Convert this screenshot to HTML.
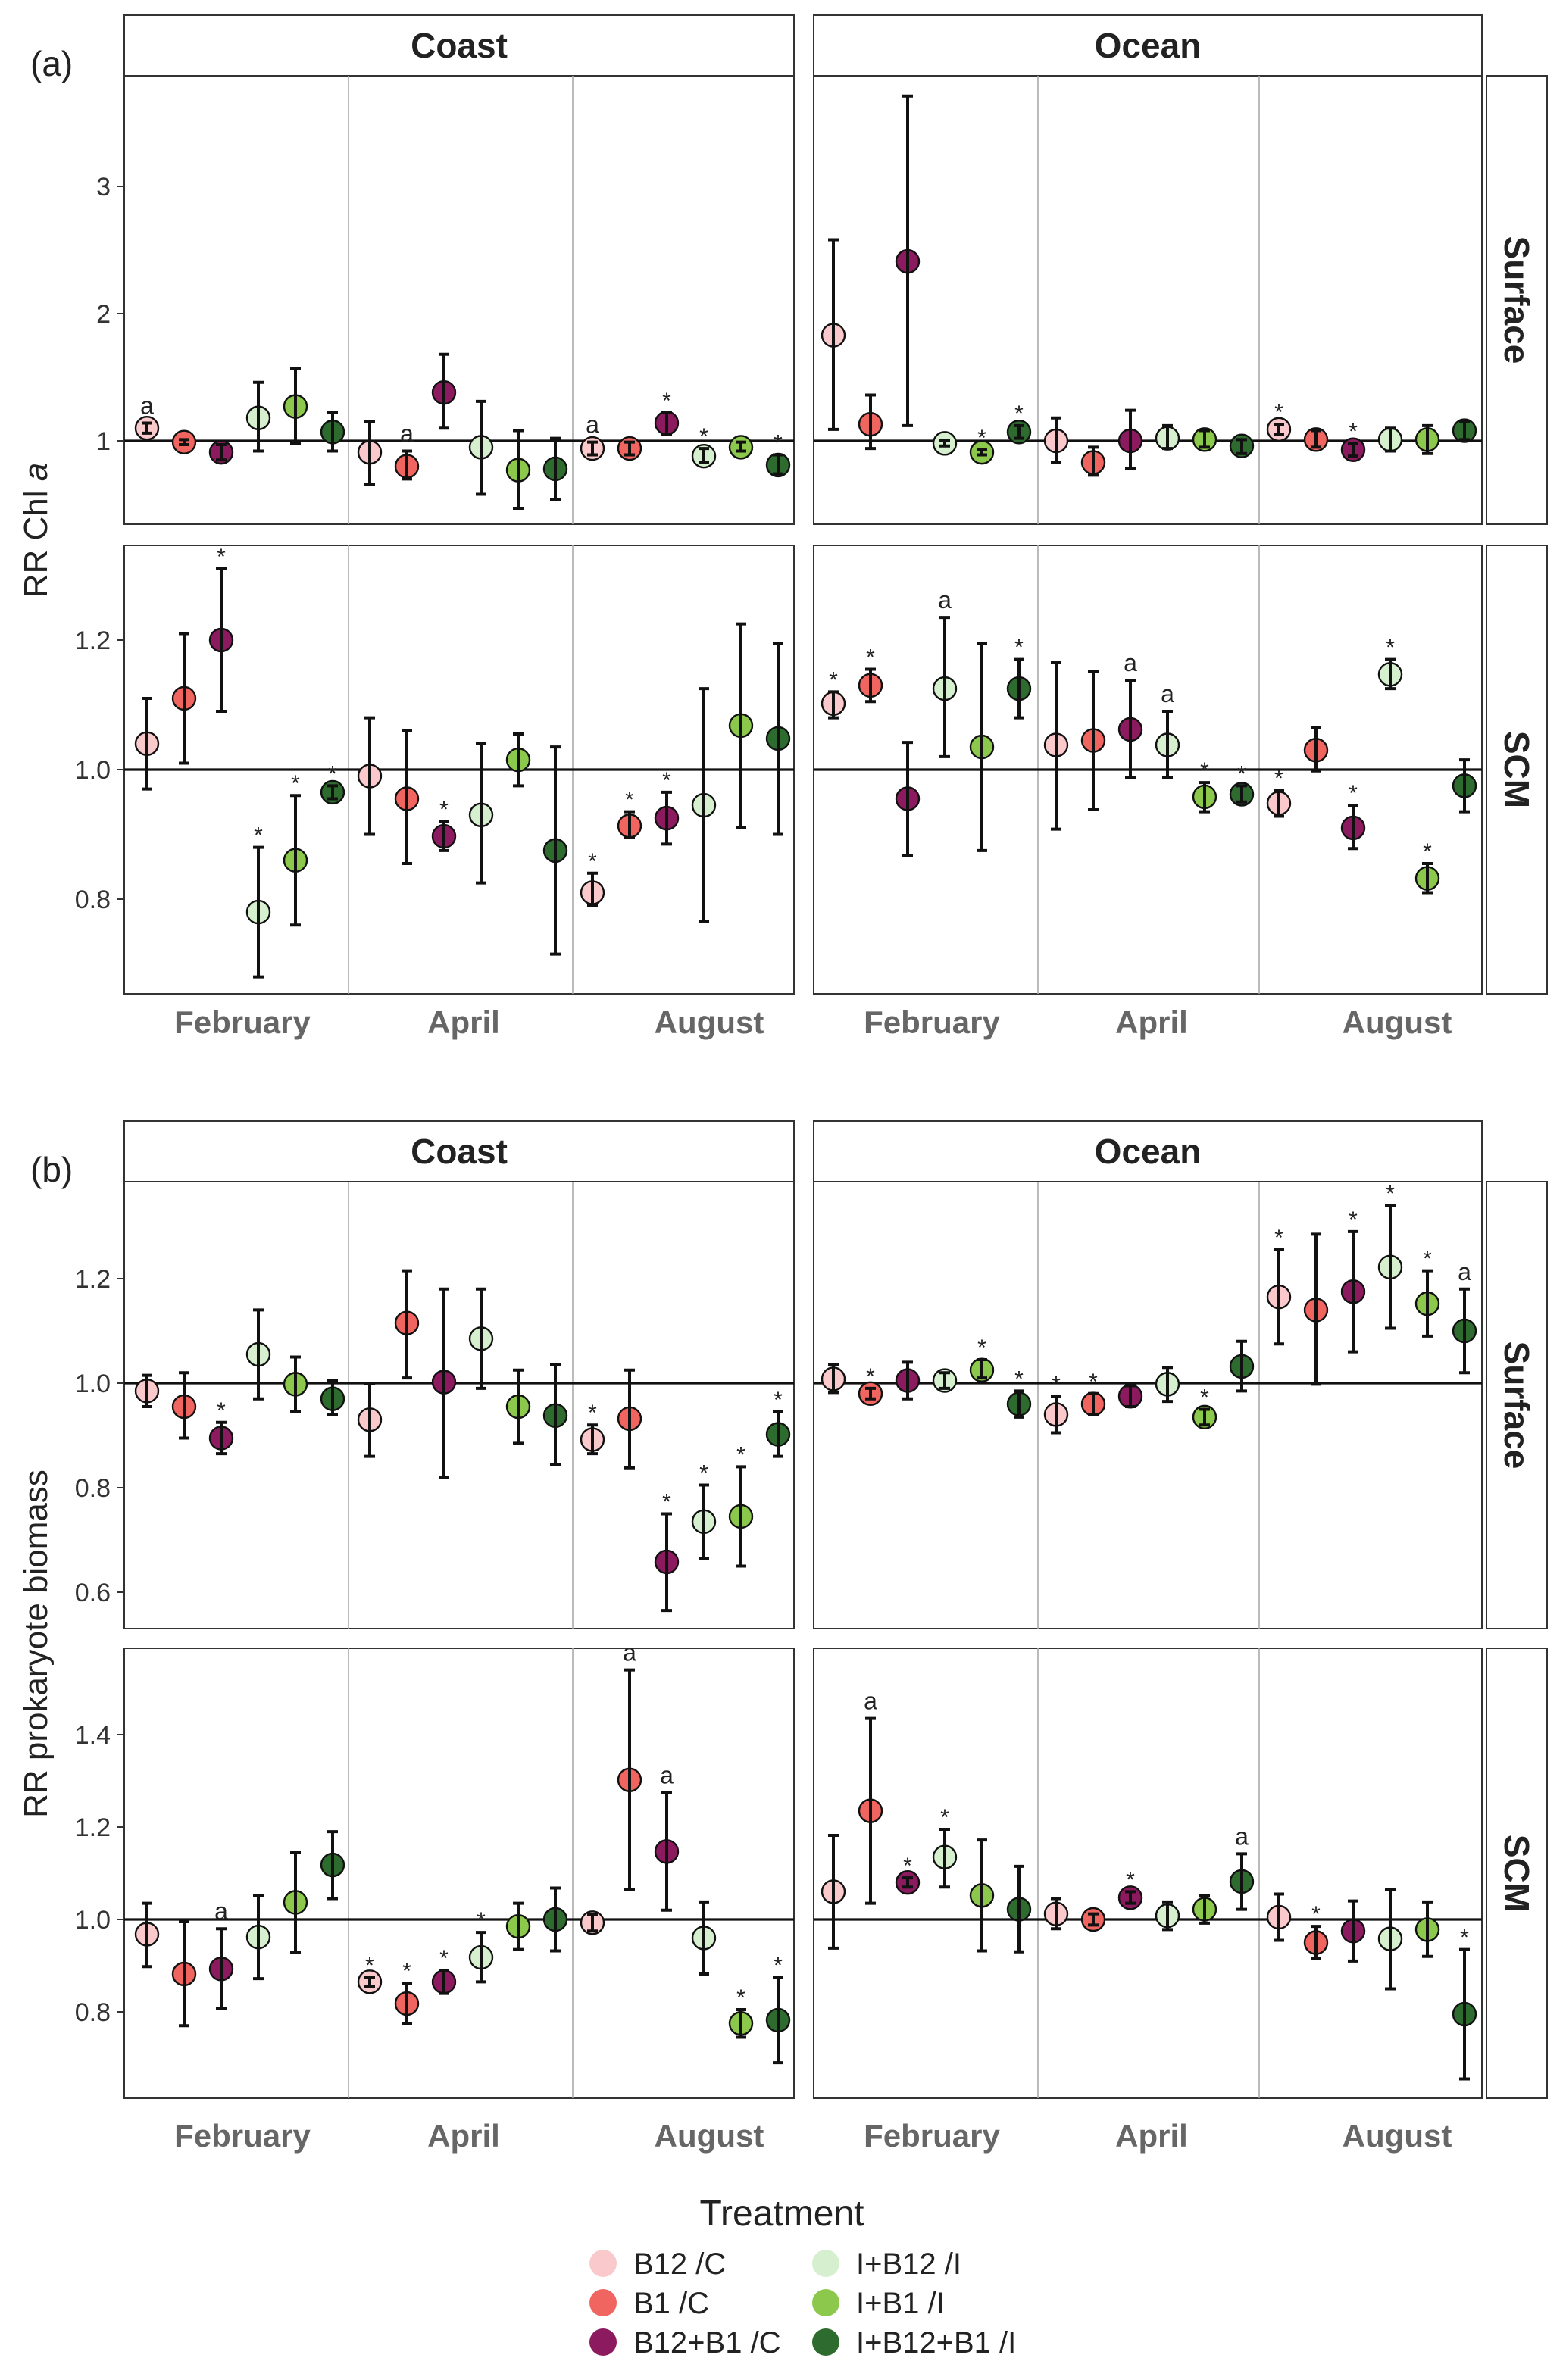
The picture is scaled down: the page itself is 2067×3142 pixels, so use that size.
<!DOCTYPE html>
<html><head><meta charset="utf-8"><style>
html,body{margin:0;padding:0;background:#fff}
svg{display:block}
text{font-family:"Liberation Sans",sans-serif}
</style></head><body>
<svg id="fig" xmlns="http://www.w3.org/2000/svg" width="2067" height="3142" viewBox="0 0 1033.5 1571"></svg>
<script>
// ---- data: each panel 18 treatments (Feb x6, Apr x6, Aug x6) ----
const months = ["February","April","August"];
const treatments = ["B12 /C","B1 /C","B12+B1 /C","I+B12 /I","I+B1 /I","I+B12+B1 /I"];
const colors = ["#f9c9cb","#f06560","#8b1a5e","#d6efcf","#8cc84b","#2e6b2e"];

const aCoastSurfMean=[1.10,0.99,0.91,1.18,1.27,1.07, 0.91,0.80,1.38,0.95,0.77,0.78, 0.94,0.94,1.14,0.88,0.95,0.81];
const aCoastSurfLo  =[1.06,0.97,0.85,0.92,0.98,0.92, 0.66,0.70,1.10,0.58,0.47,0.54, 0.89,0.89,1.05,0.83,0.92,0.74];
const aCoastSurfHi  =[1.14,1.01,0.97,1.46,1.57,1.22, 1.15,0.92,1.68,1.31,1.08,1.02, 0.99,0.99,1.22,0.94,0.99,0.89];
const aCoastSurfLab =["a","","","","","", "","a","","","","", "a","","*","*","","*"];

const aOceanSurfMean=[1.83,1.13,2.41,0.98,0.91,1.07, 1.00,0.83,1.00,1.02,1.01,0.96, 1.09,1.01,0.93,1.01,1.01,1.08];
const aOceanSurfLo  =[1.09,0.94,1.12,0.96,0.89,1.02, 0.83,0.73,0.78,0.94,0.95,0.90, 1.05,0.95,0.88,0.92,0.90,1.01];
const aOceanSurfHi  =[2.58,1.36,3.71,1.00,0.93,1.12, 1.18,0.95,1.24,1.12,1.08,1.01, 1.13,1.08,0.98,1.10,1.12,1.15];
const aOceanSurfLab =["","","","","*","*", "","","","","","", "*","","*","","",""];

const aCoastScmMean=[1.04,1.11,1.20,0.78,0.86,0.965, 0.99,0.955,0.897,0.93,1.015,0.875, 0.81,0.913,0.925,0.945,1.068,1.048];
const aCoastScmLo  =[0.97,1.01,1.09,0.68,0.76,0.955, 0.90,0.855,0.875,0.825,0.975,0.715, 0.79,0.895,0.885,0.765,0.91,0.90];
const aCoastScmHi  =[1.11,1.21,1.31,0.88,0.96,0.975, 1.08,1.06,0.92,1.04,1.055,1.035, 0.84,0.935,0.965,1.125,1.225,1.195];
const aCoastScmLab =["","","*","*","*","*", "","","*","","","", "*","*","*","","",""];

const aOceanScmMean=[1.102,1.13,0.955,1.125,1.035,1.125, 1.038,1.045,1.062,1.038,0.958,0.962, 0.948,1.03,0.91,1.147,0.832,0.975];
const aOceanScmLo  =[1.08,1.105,0.867,1.02,0.875,1.08, 0.908,0.938,0.988,0.988,0.935,0.95, 0.928,0.998,0.878,1.125,0.81,0.935];
const aOceanScmHi  =[1.12,1.155,1.042,1.235,1.195,1.17, 1.165,1.152,1.138,1.09,0.98,0.975, 0.968,1.065,0.945,1.17,0.855,1.015];
const aOceanScmLab =["*","*","","a","","*", "","","a","a","*","*", "*","","*","*","*",""];

const bCoastSurfMean=[0.985,0.955,0.895,1.055,0.998,0.97, 0.93,1.115,1.002,1.085,0.955,0.938, 0.892,0.932,0.658,0.735,0.745,0.902];
const bCoastSurfLo  =[0.955,0.895,0.865,0.97,0.945,0.94, 0.86,1.01,0.82,0.99,0.885,0.845, 0.865,0.838,0.565,0.665,0.65,0.86];
const bCoastSurfHi  =[1.015,1.02,0.925,1.14,1.05,1.005, 1.00,1.215,1.18,1.18,1.025,1.035, 0.92,1.025,0.75,0.805,0.84,0.945];
const bCoastSurfLab =["","","*","","","", "","","","","","", "*","","*","*","*","*"];

const bOceanSurfMean=[1.008,0.98,1.005,1.005,1.025,0.96, 0.94,0.96,0.975,0.998,0.935,1.032, 1.165,1.14,1.175,1.222,1.152,1.10];
const bOceanSurfLo  =[0.982,0.97,0.97,0.99,1.01,0.935, 0.905,0.94,0.955,0.965,0.92,0.985, 1.075,0.998,1.06,1.105,1.09,1.02];
const bOceanSurfHi  =[1.035,0.99,1.04,1.02,1.045,0.985, 0.975,0.98,0.995,1.03,0.95,1.08, 1.255,1.285,1.29,1.34,1.215,1.18];
const bOceanSurfLab =["","*","","","*","*", "*","*","","","*","", "*","","*","*","*","a"];

const bCoastScmMean=[0.968,0.882,0.893,0.962,1.037,1.118, 0.865,0.818,0.865,0.918,0.985,1.0, 0.993,1.302,1.147,0.96,0.775,0.782];
const bCoastScmLo  =[0.898,0.77,0.808,0.872,0.928,1.045, 0.855,0.775,0.84,0.865,0.935,0.932, 0.975,1.065,1.02,0.882,0.745,0.69];
const bCoastScmHi  =[1.035,0.995,0.98,1.052,1.145,1.19, 0.875,0.862,0.89,0.972,1.035,1.068, 1.01,1.54,1.275,1.038,0.805,0.875];
const bCoastScmLab =["","","a","","","", "*","*","*","*","","", "","a","a","","*","*"];

const bOceanScmMean=[1.06,1.235,1.08,1.135,1.052,1.022, 1.012,1.0,1.047,1.008,1.022,1.082, 1.005,0.95,0.975,0.958,0.978,0.795];
const bOceanScmLo  =[0.938,1.035,1.07,1.07,0.932,0.93, 0.98,0.988,1.035,0.978,0.992,1.022, 0.955,0.915,0.91,0.85,0.92,0.655];
const bOceanScmHi  =[1.182,1.435,1.09,1.195,1.172,1.115, 1.045,1.012,1.06,1.038,1.052,1.142, 1.055,0.985,1.04,1.065,1.038,0.935];
const bOceanScmLab =["","a","*","*","","", "","","*","","","a", "","*","","","","*"];

const aSurfTicks=[1,2,3], aSurfTickLabels=["1","2","3"];
const aScmTicks=[0.8,1.0,1.2], aScmTickLabels=["0.8","1.0","1.2"];
const bSurfTicks=[0.6,0.8,1.0,1.2], bSurfTickLabels=["0.6","0.8","1.0","1.2"];
const bScmTicks=[0.8,1.0,1.2,1.4], bScmTickLabels=["0.8","1.0","1.2","1.4"];

const NS="http://www.w3.org/2000/svg";
const svg=document.getElementById('fig');
function mk(tag,attrs,parent,txt){const e=document.createElementNS(NS,tag);for(const k in attrs)e.setAttribute(k,attrs[k]);if(txt!==undefined)e.textContent=txt;(parent||svg).appendChild(e);return e;}

const cols=[{x0:82,x1:524,name:"Coast",seps:[230,378],first:97},{x0:537,x1:978,name:"Ocean",seps:[685,831],first:550}];
const step=24.5;

function panel(col,y0,y1,vOne,pxPerUnit,mean,lo,hi,lab,ticks,tickLabels,showY,name){
  const g=mk('g',{});
  
  
  const y=v=>vOne-(v-1)*pxPerUnit;
  const xi=i=>col.first+i*step;
  mk('rect',{x:col.x0,y:y0,width:col.x1-col.x0,height:y1-y0,fill:'#fff',stroke:'#333','stroke-width':1},g);
  col.seps.forEach(s=>{const l=mk('line',{x1:s,x2:s,y1:y0,y2:y1,stroke:'#aaa','stroke-width':0.8},g);});
  const ref=mk('line',{x1:col.x0,x2:col.x1,y1:y(1),y2:y(1),stroke:'#111','stroke-width':1.6},g);
  
  
  if(showY){ticks.forEach((t,k)=>{mk('line',{x1:col.x0-5,x2:col.x0,y1:y(t),y2:y(t),stroke:'#333','stroke-width':1},g);const tl=mk('text',{x:col.x0-9,y:y(t)+6,'text-anchor':'end','font-size':17,fill:'#333'},g,tickLabels[k]);});}
  mean.forEach((m,i)=>{
    const x=xi(i),c=colors[i%6];
    const p=mk('circle',{cx:x,cy:y(m),r:7.5,fill:c,stroke:'#111','stroke-width':1.2},g);
    
    
    const eb=mk('path',{d:`M${x},${y(lo[i])}V${y(hi[i])}M${x-3.5},${y(lo[i])}H${x+3.5}M${x-3.5},${y(hi[i])}H${x+3.5}`,stroke:'#111','stroke-width':2,fill:'none'},g);
    
    
    if(lab[i]){const a=mk('text',{x:x,y:y(hi[i])-(lab[i]==='*'?3:6),'text-anchor':'middle','font-size':lab[i]==='*'?15:16,'font-family':'"Liberation Serif",serif',fill:'#222'},g,lab[i]);}
  });
}
function monthLabels(col,yy){
  const centers=[col.x0+78,(col.seps[0]+col.seps[1])/2+2,col.x1-56];
  months.forEach((m,k)=>{const t=mk('text',{x:centers[k],y:yy,'text-anchor':'middle','font-size':21,'font-weight':'bold',fill:'#666'},svg,m);});
}
function strip(col,y0,y1){
  mk('rect',{x:col.x0,y:y0,width:col.x1-col.x0,height:y1-y0,fill:'#fff',stroke:'#333','stroke-width':1});
  const t=mk('text',{x:(col.x0+col.x1)/2,y:(y0+y1)/2+8,'text-anchor':'middle','font-size':23,'font-weight':'bold',fill:'#222'},svg,col.name);
  
  
}
function rstrip(y0,y1,label){
  mk('rect',{x:981,y:y0,width:40,height:y1-y0,fill:'#fff',stroke:'#333','stroke-width':1});
  const cy=(y0+y1)/2;
  const t=mk('text',{x:993,y:cy,'text-anchor':'middle','font-size':23,'font-weight':'bold',fill:'#222',transform:`rotate(90 993 ${cy})`},svg,label);
  
  
}

// Panel (a)
cols.forEach(c=>strip(c,10,50));
rstrip(50,346,"Surface"); rstrip(360,656,"SCM");
panel(cols[0],50,346,291,84,aCoastSurfMean,aCoastSurfLo,aCoastSurfHi,aCoastSurfLab,aSurfTicks,aSurfTickLabels,true,'a-coast-surface-panel');
panel(cols[1],50,346,291,84,aOceanSurfMean,aOceanSurfLo,aOceanSurfHi,aOceanSurfLab,aSurfTicks,aSurfTickLabels,false,'a-ocean-surface-panel');
panel(cols[0],360,656,508,427.5,aCoastScmMean,aCoastScmLo,aCoastScmHi,aCoastScmLab,aScmTicks,aScmTickLabels,true,'a-coast-scm-panel');
panel(cols[1],360,656,508,427.5,aOceanScmMean,aOceanScmLo,aOceanScmHi,aOceanScmLab,aScmTicks,aScmTickLabels,false,'a-ocean-scm-panel');
cols.forEach(c=>monthLabels(c,682));

// Panel (b)
cols.forEach(c=>strip(c,740,780));
rstrip(780,1075,"Surface"); rstrip(1088,1385,"SCM");
panel(cols[0],780,1075,913,345,bCoastSurfMean,bCoastSurfLo,bCoastSurfHi,bCoastSurfLab,bSurfTicks,bSurfTickLabels,true,'b-coast-surface-panel');
panel(cols[1],780,1075,913,345,bOceanSurfMean,bOceanSurfLo,bOceanSurfHi,bOceanSurfLab,bSurfTicks,bSurfTickLabels,false,'b-ocean-surface-panel');
panel(cols[0],1088,1385,1267,305,bCoastScmMean,bCoastScmLo,bCoastScmHi,bCoastScmLab,bScmTicks,bScmTickLabels,true,'b-coast-scm-panel');
panel(cols[1],1088,1385,1267,305,bOceanScmMean,bOceanScmLo,bOceanScmHi,bOceanScmLab,bScmTicks,bScmTickLabels,false,'b-ocean-scm-panel');
cols.forEach(c=>monthLabels(c,1417));

// Titles
let t;
t=mk('text',{x:20,y:50,'font-size':23,fill:'#222'},svg,'(a)');
t=mk('text',{x:20,y:780,'font-size':23,fill:'#222'},svg,'(b)');
t=mk('text',{x:31,y:350,'text-anchor':'middle','font-size':22,fill:'#222',transform:'rotate(-90 31 350)'},svg);
t.innerHTML='RR Chl <tspan font-style="italic">a</tspan>';

t=mk('text',{x:31,y:1085,'text-anchor':'middle','font-size':22,fill:'#222',transform:'rotate(-90 31 1085)'},svg,'RR prokaryote biomass');


// Legend
t=mk('text',{x:516,y:1469,'text-anchor':'middle','font-size':24,fill:'#222'},svg,'Treatment');

treatments.forEach((tr,i)=>{
  const cx=i<3?398:545, cy=1494+(i%3)*26;
  const g=mk('g',{});
  
  
  mk('circle',{cx:cx,cy:cy,r:9,fill:colors[i]},g);
  mk('text',{x:cx+20,y:cy+7,'font-size':20,fill:'#222'},g,tr);
});
</script>
</body></html>
